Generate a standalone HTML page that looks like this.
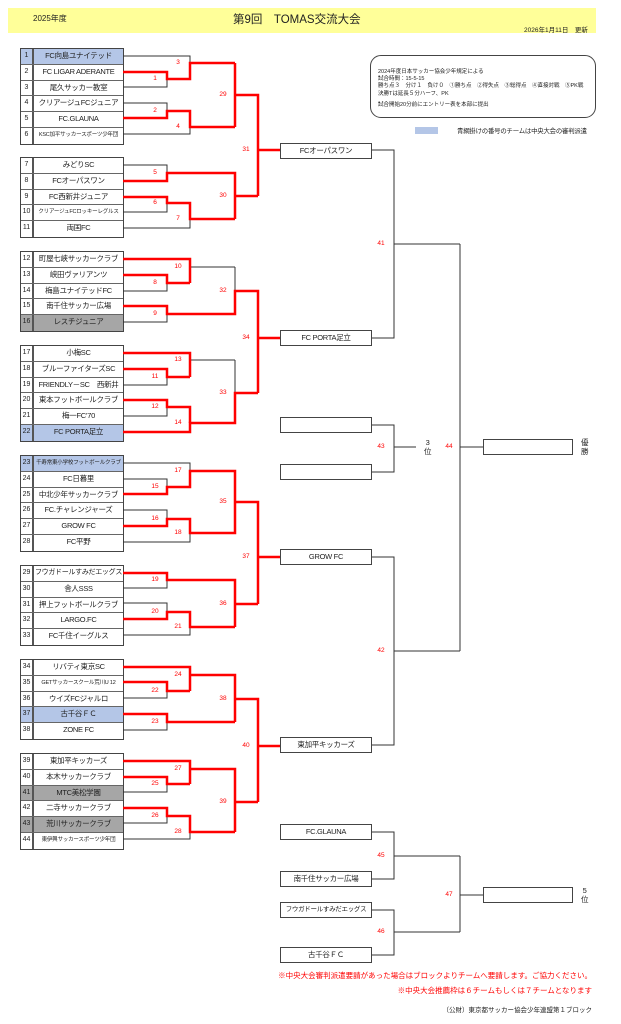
<!DOCTYPE html>
<html><head><meta charset="utf-8"><style>
*{margin:0;padding:0;box-sizing:border-box}
body{width:621px;height:1024px;background:#fff;position:relative;overflow:hidden;font-family:"Liberation Sans","Noto Sans CJK JP",sans-serif;color:#222}
.a{position:absolute;white-space:nowrap}
.blk{position:absolute;left:20px;width:104px;border:1.5px solid #444;background:#fff}
.r{height:15.75px;display:flex;border-bottom:1px solid #666;font-size:7.5px;line-height:14px}
.r:last-child{border-bottom:none}
.n{width:13px;border-right:2px solid #555;text-align:center;font-size:7px}
.t{flex:1;text-align:center;overflow:hidden;letter-spacing:-0.3px}
.s .t{font-size:5.5px;letter-spacing:-0.2px}
.g{background:#a6a6a6}
.b{background:#b4c6e7}
.bx{position:absolute;border:1.3px solid #444;background:#fff;font-size:7.5px;text-align:center;line-height:13px;letter-spacing:-0.3px}
.lb{position:absolute;color:#f00;font-size:6.5px;width:20px;text-align:center;margin-top:-4px}
.rl{position:absolute;font-size:5.5px;left:378px}
</style></head><body>
<div class="a" style="left:8px;top:8px;width:588px;height:25px;background:#ffff99"></div>
<div class="a" style="left:33px;top:13px;font-size:8px">2025年度</div>
<div class="a" style="left:233px;top:11px;font-size:11.5px">第9回　TOMAS交流大会</div>
<div class="a" style="left:524px;top:24px;font-size:6.5px">2026年1月11日　更新</div>

<div class="a" style="left:370px;top:55px;width:226px;height:63px;border:1.3px solid #444;border-radius:11px"></div>
<div class="rl" style="top:67px">2024年度日本サッカー協会少年規定による</div>
<div class="rl" style="top:74px">試合時間：15-5-15</div>
<div class="rl" style="top:81px">勝ち点３　分け１　負け０　①勝ち点　②得失点　③総得点　④直接対戦　⑤PK戦</div>
<div class="rl" style="top:89px">決勝Tは延長５分ハーフ、PK</div>
<div class="rl" style="top:100px">試合開始20分前にエントリー表を本部に提出</div>
<div class="a" style="left:415px;top:127px;width:23px;height:7px;background:#b4c6e7"></div>
<div class="a" style="left:457px;top:126px;font-size:6.4px;letter-spacing:-0.2px">青網掛けの番号のチームは中央大会の審判派遣</div>

<div class="blk" style="top:48px">
<div class="r b"><div class="n">1</div><div class="t">FC向島ユナイテッド</div></div>
<div class="r"><div class="n">2</div><div class="t">FC LIGAR ADERANTE</div></div>
<div class="r"><div class="n">3</div><div class="t">尾久サッカー教室</div></div>
<div class="r"><div class="n">4</div><div class="t">クリアージュFCジュニア</div></div>
<div class="r"><div class="n">5</div><div class="t">FC.GLAUNA</div></div>
<div class="r s"><div class="n">6</div><div class="t">KSC加平サッカースポーツ少年団</div></div>
</div>
<div class="blk" style="top:157px">
<div class="r"><div class="n">7</div><div class="t">みどりSC</div></div>
<div class="r"><div class="n">8</div><div class="t">FCオーパスワン</div></div>
<div class="r"><div class="n">9</div><div class="t">FC西新井ジュニア</div></div>
<div class="r s"><div class="n">10</div><div class="t">クリアージュFCロッキーレグルス</div></div>
<div class="r"><div class="n">11</div><div class="t">両国FC</div></div>
</div>
<div class="blk" style="top:251px">
<div class="r"><div class="n">12</div><div class="t">町屋七峡サッカークラブ</div></div>
<div class="r"><div class="n">13</div><div class="t">峡田ヴァリアンツ</div></div>
<div class="r"><div class="n">14</div><div class="t">梅島ユナイテッドFC</div></div>
<div class="r"><div class="n">15</div><div class="t">南千住サッカー広場</div></div>
<div class="r g"><div class="n">16</div><div class="t">レスチジュニア</div></div>
</div>
<div class="blk" style="top:345px">
<div class="r"><div class="n">17</div><div class="t">小梅SC</div></div>
<div class="r"><div class="n">18</div><div class="t">ブルーファイターズSC</div></div>
<div class="r"><div class="n">19</div><div class="t">FRIENDLY－SC　西新井</div></div>
<div class="r"><div class="n">20</div><div class="t">東本フットボールクラブ</div></div>
<div class="r"><div class="n">21</div><div class="t">梅一FC’70</div></div>
<div class="r b"><div class="n">22</div><div class="t">FC PORTA足立</div></div>
</div>
<div class="blk" style="top:455px">
<div class="r b s"><div class="n">23</div><div class="t">千寿常東小学校フットボールクラブ</div></div>
<div class="r"><div class="n">24</div><div class="t">FC日暮里</div></div>
<div class="r"><div class="n">25</div><div class="t">中北少年サッカークラブ</div></div>
<div class="r"><div class="n">26</div><div class="t">FC.チャレンジャーズ</div></div>
<div class="r"><div class="n">27</div><div class="t">GROW FC</div></div>
<div class="r"><div class="n">28</div><div class="t">FC平野</div></div>
</div>
<div class="blk" style="top:565px">
<div class="r"><div class="n">29</div><div class="t" style="font-size:7px">フウガドールすみだエッグス</div></div>
<div class="r"><div class="n">30</div><div class="t">舎人SSS</div></div>
<div class="r"><div class="n">31</div><div class="t">押上フットボールクラブ</div></div>
<div class="r"><div class="n">32</div><div class="t">LARGO.FC</div></div>
<div class="r"><div class="n">33</div><div class="t">FC千住イーグルス</div></div>
</div>
<div class="blk" style="top:659px">
<div class="r"><div class="n">34</div><div class="t">リバティ東京SC</div></div>
<div class="r s"><div class="n">35</div><div class="t">GETサッカースクール荒川U 12</div></div>
<div class="r"><div class="n">36</div><div class="t">ウイズFCジャルロ</div></div>
<div class="r b"><div class="n">37</div><div class="t">古千谷ＦＣ</div></div>
<div class="r"><div class="n">38</div><div class="t">ZONE FC</div></div>
</div>
<div class="blk" style="top:753px">
<div class="r"><div class="n">39</div><div class="t">東加平キッカーズ</div></div>
<div class="r"><div class="n">40</div><div class="t">本木サッカークラブ</div></div>
<div class="r g"><div class="n">41</div><div class="t">MTC美松学園</div></div>
<div class="r"><div class="n">42</div><div class="t">二寺サッカークラブ</div></div>
<div class="r g"><div class="n">43</div><div class="t">荒川サッカークラブ</div></div>
<div class="r s"><div class="n">44</div><div class="t">東伊興サッカースポーツ少年団</div></div>
</div>

<svg class="a" style="left:0;top:0" width="621" height="1024" fill="none">
<g stroke="#333" stroke-width="1">
<polyline points="123,72 167,72 167,87 123,87"/><polyline points="167,79 190,79"/><polyline points="123,56 190,56 190,79"/><polyline points="190,63 235,63"/>
<polyline points="123,103 167,103 167,118 123,118"/><polyline points="167,111 190,111"/><polyline points="190,111 190,134 123,134"/><polyline points="190,127 235,127"/>
<polyline points="235,63 235,127"/><polyline points="235,95 258,95"/><polyline points="258,95 258,196"/><polyline points="258,150 280,150"/>
<polyline points="123,165 167,165 167,181 123,181"/><polyline points="167,173 235,173"/><polyline points="123,197 167,197 167,212 123,212"/><polyline points="167,203 190,203"/><polyline points="190,203 190,228 123,228"/><polyline points="190,219 235,219"/><polyline points="235,173 235,219"/><polyline points="235,196 258,196"/>
<polyline points="123,275 167,275 167,291 123,291"/><polyline points="167,283 190,283"/><polyline points="123,259 190,259 190,283"/><polyline points="190,267 235,267"/><polyline points="123,306 167,306 167,322 123,322"/><polyline points="167,314 235,314"/><polyline points="235,267 235,314"/><polyline points="235,291 258,291"/><polyline points="258,291 258,393"/><polyline points="258,338 280,338"/>
<polyline points="123,369 167,369 167,385 123,385"/><polyline points="167,377 190,377"/><polyline points="123,353 190,353 190,377"/><polyline points="190,360 235,360"/><polyline points="123,400 167,400 167,416 123,416"/><polyline points="167,407 190,407"/><polyline points="190,407 190,432 123,432"/><polyline points="190,423 235,423"/><polyline points="235,360 235,423"/><polyline points="235,393 258,393"/>
<polyline points="123,479 167,479 167,494 123,494"/><polyline points="167,487 190,487"/><polyline points="123,463 190,463 190,487"/><polyline points="190,471 235,471"/><polyline points="123,510 167,510 167,526 123,526"/><polyline points="167,519 190,519"/><polyline points="190,519 190,542 123,542"/><polyline points="190,533 235,533"/><polyline points="235,471 235,533"/><polyline points="235,502 258,502"/><polyline points="258,502 258,604"/><polyline points="258,557 280,557"/>
<polyline points="123,573 167,573 167,588 123,588"/><polyline points="167,580 235,580"/><polyline points="123,603 167,603 167,619 123,619"/><polyline points="167,612 190,612"/><polyline points="190,612 190,635 123,635"/><polyline points="190,627 235,627"/><polyline points="235,580 235,627"/><polyline points="235,604 258,604"/>
<polyline points="123,682 167,682 167,698 123,698"/><polyline points="167,691 190,691"/><polyline points="123,667 190,667 190,691"/><polyline points="190,675 235,675"/><polyline points="123,714 167,714 167,730 123,730"/><polyline points="167,722 235,722"/><polyline points="235,675 235,722"/><polyline points="235,699 258,699"/><polyline points="258,699 258,802"/><polyline points="258,746 280,746"/>
<polyline points="123,777 167,777 167,792 123,792"/><polyline points="167,784 190,784"/><polyline points="123,761 190,761 190,784"/><polyline points="190,769 235,769"/><polyline points="123,808 167,808 167,823 123,823"/><polyline points="167,816 190,816"/><polyline points="190,816 190,839 123,839"/><polyline points="190,832 235,832"/><polyline points="235,769 235,832"/><polyline points="235,802 258,802"/>
<polyline points="372,150 394,150 394,338 372,338"/><polyline points="394,244 460,244"/>
<polyline points="372,425 394,425 394,472 372,472"/><polyline points="394,447 416,447"/>
<polyline points="372,557 394,557 394,745 372,745"/><polyline points="394,651 460,651"/>
<polyline points="460,244 460,651"/><polyline points="460,447 483,447"/>
<polyline points="372,832 394,832 394,879 372,879"/><polyline points="394,856 460,856"/>
<polyline points="372,910 394,910 394,955 372,955"/><polyline points="394,932 460,932"/>
<polyline points="460,856 460,932"/><polyline points="460,895 483,895"/>
</g>
<g stroke="#f00" stroke-width="2.5" stroke-linejoin="miter">
<polyline points="123,72 167,72 167,79 190,79 190,63 235,63"/>
<polyline points="123,118 167,118 167,111 190,111 190,127 235,127"/>
<polyline points="235,63 235,127"/><polyline points="235,95 258,95 258,196"/><polyline points="258,150 280,150"/>
<polyline points="123,181 167,181 167,173 235,173 235,219"/><polyline points="235,196 258,196"/>
<polyline points="123,197 167,197 167,203 190,203 190,219 235,219"/>
<polyline points="123,259 190,259 190,283"/><polyline points="123,275 167,275 167,283 190,283"/>
<polyline points="123,306 167,306 167,314 235,314 235,291 258,291 258,393"/><polyline points="258,338 280,338"/>
<polyline points="123,353 190,353 190,377"/><polyline points="123,369 167,369 167,377 190,377"/>
<polyline points="123,400 167,400 167,407 190,407 190,423"/><polyline points="123,432 190,432 190,423 235,423 235,393 258,393"/>
<polyline points="123,494 167,494 167,487 190,487 190,471 235,471 235,502"/>
<polyline points="123,526 167,526 167,519 190,519 190,533 235,533 235,502"/>
<polyline points="235,502 258,502 258,604"/><polyline points="258,557 280,557"/>
<polyline points="123,573 167,573 167,580 235,580 235,627"/>
<polyline points="123,619 167,619 167,612 190,612 190,627 235,627"/><polyline points="235,604 258,604"/>
<polyline points="123,667 190,667 190,691"/><polyline points="123,682 167,682 167,691 190,691"/>
<polyline points="190,675 235,675 235,722"/><polyline points="123,714 167,714 167,722 235,722"/>
<polyline points="235,699 258,699 258,802"/><polyline points="258,746 280,746"/>
<polyline points="123,761 190,761 190,784"/><polyline points="123,777 167,777 167,784 190,784"/>
<polyline points="190,769 235,769 235,832"/><polyline points="235,802 258,802"/>
<polyline points="123,808 167,808 167,816 190,816 190,832 235,832"/>
</g>
</svg>

<div class="lb" style="left:145px;top:79px">1</div><div class="lb" style="left:168px;top:63px">3</div>
<div class="lb" style="left:145px;top:111px">2</div><div class="lb" style="left:168px;top:127px">4</div>
<div class="lb" style="left:213px;top:95px">29</div><div class="lb" style="left:236px;top:150px">31</div>
<div class="lb" style="left:145px;top:173px">5</div><div class="lb" style="left:145px;top:203px">6</div>
<div class="lb" style="left:168px;top:219px">7</div><div class="lb" style="left:213px;top:196px">30</div>
<div class="lb" style="left:145px;top:283px">8</div><div class="lb" style="left:168px;top:267px">10</div>
<div class="lb" style="left:145px;top:314px">9</div><div class="lb" style="left:213px;top:291px">32</div><div class="lb" style="left:236px;top:338px">34</div>
<div class="lb" style="left:145px;top:377px">11</div><div class="lb" style="left:168px;top:360px">13</div>
<div class="lb" style="left:145px;top:407px">12</div><div class="lb" style="left:168px;top:423px">14</div><div class="lb" style="left:213px;top:393px">33</div>
<div class="lb" style="left:145px;top:487px">15</div><div class="lb" style="left:168px;top:471px">17</div>
<div class="lb" style="left:145px;top:519px">16</div><div class="lb" style="left:168px;top:533px">18</div>
<div class="lb" style="left:213px;top:502px">35</div><div class="lb" style="left:236px;top:557px">37</div>
<div class="lb" style="left:145px;top:580px">19</div><div class="lb" style="left:145px;top:612px">20</div>
<div class="lb" style="left:168px;top:627px">21</div><div class="lb" style="left:213px;top:604px">36</div>
<div class="lb" style="left:145px;top:691px">22</div><div class="lb" style="left:168px;top:675px">24</div>
<div class="lb" style="left:145px;top:722px">23</div><div class="lb" style="left:213px;top:699px">38</div><div class="lb" style="left:236px;top:746px">40</div>
<div class="lb" style="left:145px;top:784px">25</div><div class="lb" style="left:168px;top:769px">27</div>
<div class="lb" style="left:145px;top:816px">26</div><div class="lb" style="left:168px;top:832px">28</div><div class="lb" style="left:213px;top:802px">39</div>
<div class="lb" style="left:371px;top:244px">41</div><div class="lb" style="left:371px;top:447px">43</div>
<div class="lb" style="left:439px;top:447px">44</div><div class="lb" style="left:371px;top:651px">42</div>
<div class="lb" style="left:371px;top:856px">45</div><div class="lb" style="left:371px;top:932px">46</div>
<div class="lb" style="left:439px;top:895px">47</div>

<div class="bx" style="left:280px;top:143px;width:92px;height:16px">FCオーパスワン</div>
<div class="bx" style="left:280px;top:330px;width:92px;height:16px">FC PORTA足立</div>
<div class="bx" style="left:280px;top:417px;width:92px;height:16px"></div>
<div class="bx" style="left:280px;top:464px;width:92px;height:16px"></div>
<div class="bx" style="left:280px;top:549px;width:92px;height:16px">GROW FC</div>
<div class="bx" style="left:280px;top:737px;width:92px;height:16px">東加平キッカーズ</div>
<div class="bx" style="left:280px;top:824px;width:92px;height:16px">FC.GLAUNA</div>
<div class="bx" style="left:280px;top:871px;width:92px;height:16px">南千住サッカー広場</div>
<div class="bx" style="left:280px;top:902px;width:92px;height:16px;font-size:6.5px">フウガドールすみだエッグス</div>
<div class="bx" style="left:280px;top:947px;width:92px;height:16px">古千谷ＦＣ</div>
<div class="bx" style="left:483px;top:439px;width:90px;height:16px"></div>
<div class="bx" style="left:483px;top:887px;width:90px;height:16px"></div>
<div class="a" style="left:424px;top:438px;font-size:7.5px;line-height:9px;text-align:center">3<br>位</div>
<div class="a" style="left:581px;top:438px;font-size:7.5px;line-height:9px;text-align:center">優<br>勝</div>
<div class="a" style="left:581px;top:886px;font-size:7.5px;line-height:9px;text-align:center">5<br>位</div>

<div class="a" style="right:29px;top:970px;font-size:7.5px;color:#f00">※中央大会審判派遣要請があった場合はブロックよりチームへ要請します。ご協力ください。</div>
<div class="a" style="right:29px;top:985px;font-size:7.5px;color:#f00">※中央大会推薦枠は６チームもしくは７チームとなります</div>
<div class="a" style="right:29px;top:1004px;font-size:6.5px">（公財）東京都サッカー協会少年連盟第１ブロック</div>
</body></html>
